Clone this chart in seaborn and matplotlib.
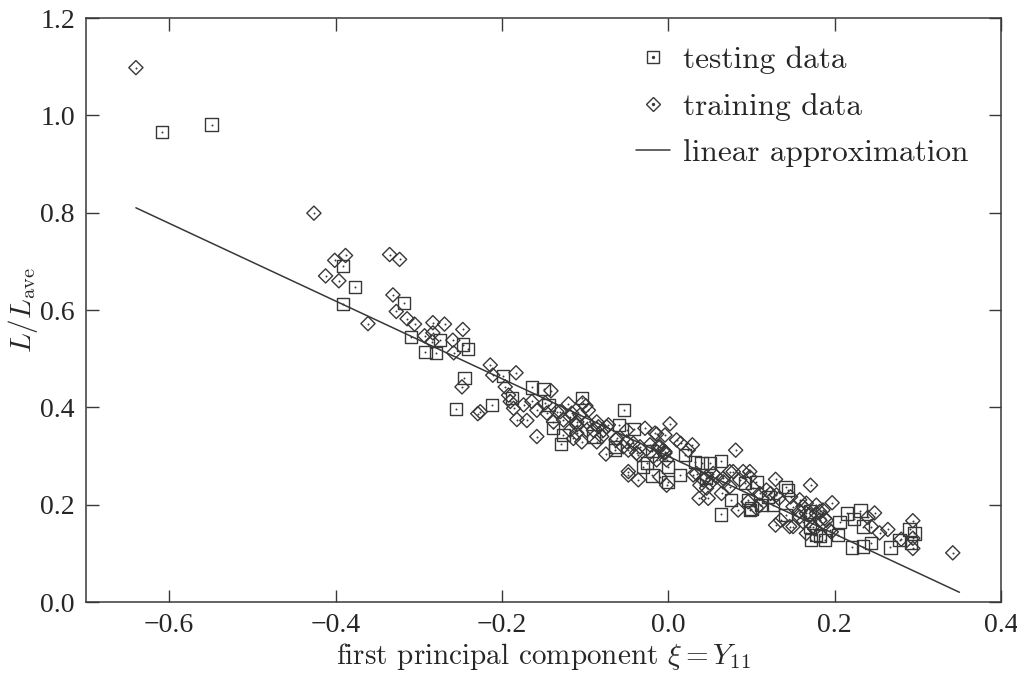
import matplotlib
matplotlib.use("Agg")
import matplotlib.pyplot as plt
import pandas as pd
import seaborn as sns


## Values

test_x = [-0.609, -0.549,
          -0.391, -0.377, -0.391, -0.318, -0.309, -0.274, -0.247, -0.241, -0.292, -0.279,
          -0.245, -0.255, -0.199, -0.164, -0.150, -0.212, -0.188, -0.144, -0.139, -0.104,
          -0.129, -0.053, -0.059, -0.041, -0.064, -0.030, -0.019, 0.000, -0.090, -0.020,
          0.020, 0.032, 0.040, 0.050, 0.063, 0.000, 0.014, 0.075, 0.063, 0.092, 0.106,
          0.096, 0.126, 0.141, 0.144, 0.141, 0.170, 0.170, 0.045, 0.120, 0.100, 0.112,
          0.206, 0.215, 0.231, 0.223, 0.234, 0.188, 0.204, 0.221, 0.234, 0.244, 0.267,
          0.278, 0.290, 0.296, 0.292, 0.172, 0.182,
          -0.126, -0.064, -0.026, 0.098, 0.178]
test_y = [0.966, 0.981,
          0.690, 0.647, 0.612, 0.614, 0.544, 0.538, 0.529, 0.520, 0.514, 0.511,
          0.460, 0.397, 0.464, 0.441, 0.437, 0.405, 0.419, 0.405, 0.357, 0.419,
          0.325, 0.394, 0.364, 0.355, 0.312, 0.278, 0.260, 0.247, 0.340, 0.310,
          0.302, 0.288, 0.285, 0.286, 0.290, 0.278, 0.261, 0.210, 0.180, 0.244, 0.247,
          0.210, 0.199, 0.236, 0.230, 0.179, 0.186, 0.155, 0.255, 0.215, 0.192, 0.200,
          0.165, 0.182, 0.188, 0.170, 0.155, 0.127, 0.138, 0.112, 0.114, 0.121, 0.112,
          0.127, 0.149, 0.141, 0.121, 0.128, 0.135,
          0.343, 0.319, 0.285, 0.189, 0.138]

train_x = [-0.640, -0.426, -0.401, -0.388, -0.412, -0.396, -0.361, -0.335, -0.323, -0.331,
           -0.327, -0.314, -0.305, -0.283, -0.269, -0.247, -0.293, -0.283, -0.284, -0.259,
           -0.258, -0.248, -0.229,
           -0.214, -0.211, -0.183, -0.196, -0.141, -0.226, -0.192, -0.190, -0.186, -0.174,
           -0.164, -0.158, -0.182, -0.170, -0.146, -0.134, -0.120, -0.099, -0.096, -0.126,
           -0.118, -0.110, -0.106, -0.098, -0.086, -0.118, -0.110, -0.098, -0.158, -0.104,
           -0.074, -0.078, -0.090, -0.086, -0.063, -0.050, -0.028, -0.014, 0.002, -0.075,
           -0.054, -0.042, -0.038, -0.018, -0.010, -0.004, -0.048, -0.036, -0.010, 0.010,
           -0.004, 0.015, 0.029, 0.024, 0.081, -0.006, -0.002, -0.002, 0.030, 0.042, 0.054,
           0.066, 0.074, 0.046, 0.064, 0.037, 0.048, 0.084, 0.090, 0.098, 0.086, 0.102,
           0.110, 0.118, 0.129, 0.110, 0.130, 0.171, 0.197, 0.150, 0.162, 0.166, 0.158,
           0.178, 0.182, 0.150, 0.190, 0.166, 0.176,
           0.186, 0.188, 0.248, 0.240, 0.244, 0.254, 0.264, 0.196, 0.280, 0.294, 0.294,
           0.294, 0.342,
           -0.103, -0.148, -0.130, -0.116, -0.138, -0.110, -0.084, -0.072, -0.016, -0.114,
           -0.080, -0.062, -0.050, -0.048, -0.034, -0.036, -0.022, -0.012, -0.048, -0.014,
           -0.004,
           0.078, 0.098, 0.034, 0.046, 0.058, 0.066, 0.050, 0.038, 0.074, 0.123, 0.133,
           0.147, 0.158, 0.166, 0.178, 0.096, 0.106, 0.158, 0.170, 0.182, 0.146, 0.162,
           0.174, 0.194, 0.135, 0.129]
train_y = [1.098, 0.799, 0.702, 0.712, 0.670, 0.660, 0.572, 0.714, 0.704, 0.631,
           0.597, 0.582, 0.571, 0.574, 0.571, 0.560, 0.547, 0.553, 0.535, 0.538,
           0.512, 0.442, 0.387,
           0.487, 0.466, 0.471, 0.442, 0.434, 0.391, 0.425, 0.412, 0.398, 0.405,
           0.412, 0.394, 0.375, 0.373, 0.388, 0.391, 0.407, 0.403, 0.394, 0.374,
           0.381, 0.370, 0.384, 0.370, 0.370, 0.353, 0.347, 0.353, 0.340, 0.329,
           0.360, 0.353, 0.353, 0.329, 0.333, 0.353, 0.357, 0.345, 0.366, 0.304,
           0.319, 0.326, 0.306, 0.299, 0.319, 0.306, 0.261, 0.251, 0.257, 0.333,
           0.343, 0.326, 0.323, 0.312, 0.312, 0.312, 0.292, 0.240, 0.261, 0.251, 0.264,
           0.254, 0.268, 0.234, 0.223, 0.213, 0.213, 0.189, 0.268, 0.257, 0.251, 0.234,
           0.223, 0.230, 0.252, 0.199, 0.220, 0.240, 0.204, 0.196, 0.196, 0.182, 0.175,
           0.182, 0.168, 0.155, 0.168, 0.141, 0.150,
           0.189, 0.172, 0.183, 0.174, 0.155, 0.142, 0.149, 0.144, 0.129, 0.167, 0.131,
           0.110, 0.101,
           0.409, 0.409, 0.391, 0.388, 0.370, 0.364, 0.360, 0.364, 0.347, 0.336,
           0.340, 0.336, 0.329, 0.312, 0.319, 0.302, 0.323, 0.319, 0.268, 0.292,
           0.309,
           0.268, 0.268, 0.264, 0.257, 0.257, 0.247, 0.244, 0.240, 0.237, 0.223, 0.213,
           0.216, 0.210, 0.203, 0.199, 0.206, 0.193, 0.186, 0.179, 0.186, 0.155, 0.165,
           0.155, 0.148, 0.168, 0.158]

fit_x = [-0.64, 0.35]
fit_y = [0.81, 0.02]


test = pd.DataFrame({'xi': test_x, 'L': test_y})
train = pd.DataFrame({'xi': train_x, 'L': train_y})
fit = pd.DataFrame({'xi': fit_x, 'L': fit_y})

sns.set_style('ticks')
plt.rcParams['font.family'] = ['cmr10', 'DejaVu Serif']
plt.rcParams['mathtext.fontset'] = 'cm'
plt.rcParams['axes.formatter.use_mathtext'] = True

ink = '#383838'

fig = plt.figure(figsize=(10.17, 6.77), dpi=100)
ax = fig.add_axes([86 / 1017, 1 - 602 / 677, 915 / 1017, 584 / 677])

sns.lineplot(data=fit, x='xi', y='L', ax=ax, color=ink, linewidth=1.1)
sns.scatterplot(data=test, x='xi', y='L', ax=ax, marker='s', s=78,
                facecolor='none', edgecolor=ink, linewidth=1.0)
sns.scatterplot(data=train, x='xi', y='L', ax=ax, marker='D', s=52,
                facecolor='none', edgecolor=ink, linewidth=1.0)
# the little dot in the middle of every marker
sns.scatterplot(data=pd.concat([test, train]), x='xi', y='L', ax=ax,
                marker='o', s=2, color=ink, linewidth=0)

ax.set_xlim(-0.7, 0.4)
ax.set_ylim(0.0, 1.2)
ax.set_xticks([-0.6, -0.4, -0.2, 0.0, 0.2, 0.4])
ax.set_yticks([0.0, 0.2, 0.4, 0.6, 0.8, 1.0, 1.2])
ax.set_xticklabels(['\u22120.6', '\u22120.4', '\u22120.2', '0.0', '0.2', '0.4'],
                   family='Liberation Serif', fontsize=20)
ax.set_yticklabels(['0.0', '0.2', '0.4', '0.6', '0.8', '1.0', '1.2'],
                   family='Liberation Serif', fontsize=20)
ax.tick_params(direction='in', length=9, width=1.0, color=ink,
               top=True, right=True, pad=8)
for sp in ax.spines.values():
    sp.set_color(ink)
    sp.set_linewidth(1.1)

ax.set_xlabel(r'first principal component $\xi = Y_{11}$', fontsize=21, labelpad=2)
ax.set_ylabel(r'$L/L_{\mathrm{ave}}$', fontsize=21, labelpad=0)

sq = plt.Line2D([], [], ls='none', marker='s', ms=8.8, mfc='none', mec=ink, mew=1.0)
dm = plt.Line2D([], [], ls='none', marker='D', ms=7.2, mfc='none', mec=ink, mew=1.0)
dot = plt.Line2D([], [], ls='none', marker='o', ms=1.4, color=ink)
ln = plt.Line2D([], [], color=ink, lw=1.1)
ax.legend([(sq, dot), (dm, dot), ln],
          ['testing data', 'training data', 'linear approximation'],
          loc='upper right', bbox_to_anchor=(0.964, 0.952), frameon=False,
          fontsize=22.5, handlelength=1.1, handletextpad=0.4,
          labelspacing=0.6, borderpad=0, borderaxespad=0)

fig.savefig('out.png', dpi=100)
